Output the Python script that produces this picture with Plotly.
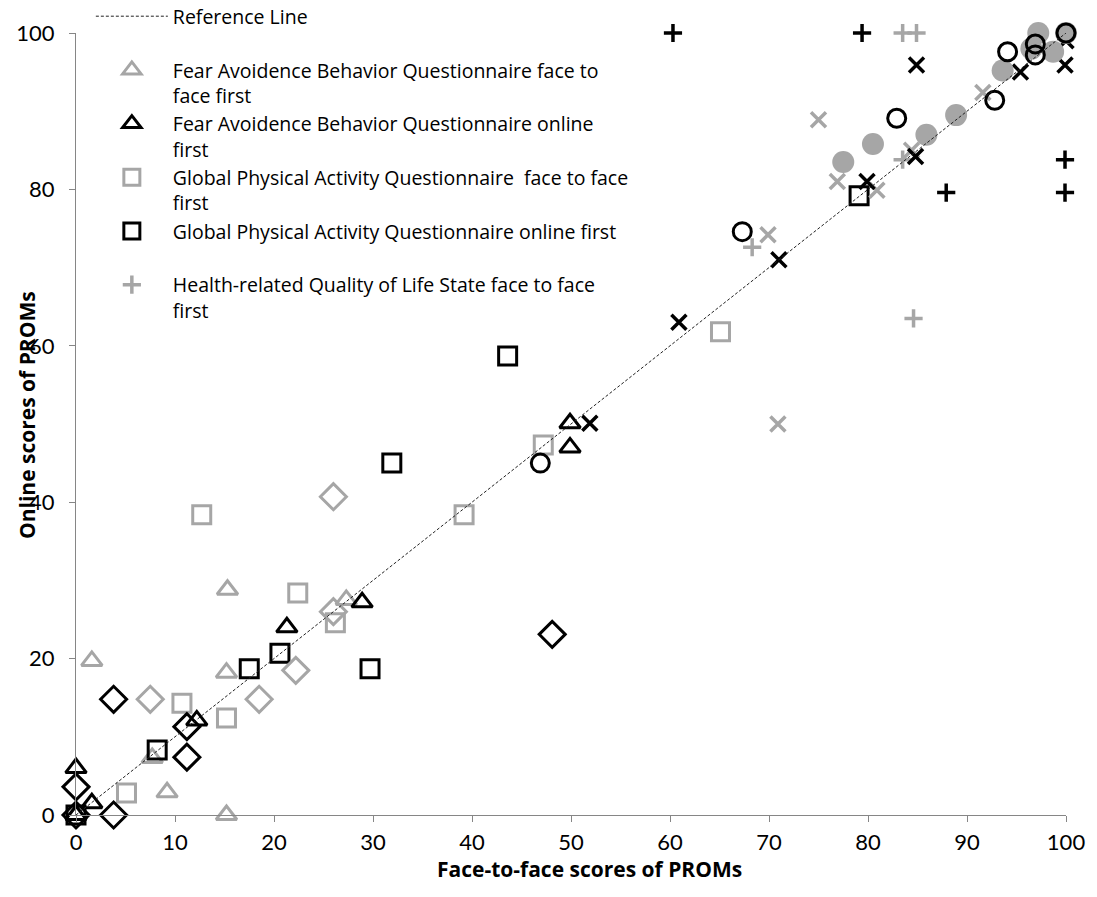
import plotly.graph_objects as go

# ---------------- data ----------------
ref_x = [0, 100]
ref_y = [0, 100]

fabq_f2f_x = [1.6, 15.3, 15.2, 7.7, 9.2, 15.2, 27.3, 0]
fabq_f2f_y = [19.7, 28.8, 18.2, 7.3, 2.9, 0, 27.5, 0]

fabq_onl_x = [0, 1.6, 12.2, 21.3, 28.9, 49.9, 49.9, 0]
fabq_onl_y = [6.0, 1.5, 12.1, 24.0, 27.2, 50.1, 47.0, 0]

gpaq_f2f_x = [12.7, 22.4, 26.2, 10.7, 15.2, 5.1, 39.2, 47.2, 65.1]
gpaq_f2f_y = [38.4, 28.4, 24.6, 14.3, 12.4, 2.8, 38.4, 47.3, 61.8]

gpaq_onl_x = [8.2, 17.5, 20.6, 29.7, 31.9, 43.6, 79.1, 0]
gpaq_onl_y = [8.3, 18.7, 20.7, 18.7, 45.0, 58.7, 79.2, 0]

hrqs_f2f_x = [83.5, 84.9, 68.3, 83.5, 84.6]
hrqs_f2f_y = [100, 100, 72.6, 83.8, 63.5]

hrqs_onl_x = [60.3, 79.4, 99.9, 99.9, 87.9]
hrqs_onl_y = [100, 100, 83.8, 79.6, 79.6]

vas_f2f_x = [75.0, 69.9, 70.9, 76.9, 80.9, 84.4, 91.6, 100]
vas_f2f_y = [88.9, 74.2, 50.0, 81.0, 79.9, 85.0, 92.4, 100]

vas_onl_x = [51.9, 60.9, 71.0, 79.9, 84.8, 84.9, 99.9, 95.4, 100]
vas_onl_y = [50.1, 63.0, 71.0, 81.0, 84.2, 95.9, 95.9, 95.0, 99.0]

circ_f2f_x = [77.5, 80.5, 85.9, 88.9, 93.6, 97.2, 98.7, 100, 96.5]
circ_f2f_y = [83.5, 85.8, 87.0, 89.5, 95.2, 100, 97.6, 100, 98.0]

circ_onl_x = [46.9, 67.3, 82.9, 92.8, 94.1, 96.9, 96.9, 100]
circ_onl_y = [45.0, 74.6, 89.1, 91.4, 97.6, 98.6, 97.2, 100]

diam_f2f_x = [26.0, 7.5, 18.5, 22.2, 26.0]
diam_f2f_y = [40.7, 14.8, 14.8, 18.5, 26.0]

diam_onl_x = [3.8, 11.2, 11.2, 0, 0, 3.8, 48.1]
diam_onl_y = [14.8, 11.3, 7.4, 3.6, 0, 0, 23.1]

x_ticks = [0, 10, 20, 30, 40, 50, 60, 70, 80, 90, 100]
y_ticks = [0, 20, 40, 60, 80, 100]

GRAY = "#A6A6A6"
BLACK = "#000000"
FONT = "Lato"
LFONT = "Open Sans"

fig = go.Figure()


def add(xs, ys, name, symbol, color, size, lw=3, show=True, rank=None, filled=False):
    marker = dict(symbol=symbol, size=size, color=color)
    if filled:
        marker["line"] = dict(width=0)
    else:
        marker["line"] = dict(width=lw, color=color)
    fig.add_trace(go.Scatter(
        x=xs, y=ys, mode="markers", name=name, marker=marker,
        showlegend=show, cliponaxis=False,
        legendrank=rank if rank is not None else 1000,
    ))


add(fabq_f2f_x, fabq_f2f_y, "Fear Avoidence Behavior Questionnaire face to<br>face first",
    "triangle-up-open", GRAY, 18, rank=2)
add(fabq_onl_x, fabq_onl_y, "Fear Avoidence Behavior Questionnaire online<br>first",
    "triangle-up-open", BLACK, 18, rank=3)
add(gpaq_f2f_x, gpaq_f2f_y, "Global Physical Activity Questionnaire  face to face<br>first",
    "square-open", GRAY, 18, rank=4)
add(gpaq_onl_x, gpaq_onl_y, "Global Physical Activity Questionnaire online first<br> ",
    "square-open", BLACK, 18, rank=5)
add(hrqs_f2f_x, hrqs_f2f_y, "Health-related Quality of Life State face to face<br>first",
    "cross-thin-open", GRAY, 13, lw=3.5, rank=6)
add(hrqs_onl_x, hrqs_onl_y, "Health-related Quality of Life State online first",
    "cross-thin-open", BLACK, 13, lw=3.5, show=False)
add(vas_f2f_x, vas_f2f_y, "Health-related Quality of Life VAS face to face first",
    "x-thin-open", GRAY, 15, lw=3.5, show=False)
add(vas_onl_x, vas_onl_y, "Health-related Quality of Life VAS online first",
    "x-thin-open", BLACK, 15, lw=3.5, show=False)
add(circ_f2f_x, circ_f2f_y, "PROM circle face to face first",
    "circle", GRAY, 22, show=False, filled=True)
add(circ_onl_x, circ_onl_y, "PROM circle online first",
    "circle-open", BLACK, 18, show=False)
add(diam_f2f_x, diam_f2f_y, "PROM diamond face to face first",
    "diamond-open", GRAY, 20, show=False)
add(diam_onl_x, diam_onl_y, "PROM diamond online first",
    "diamond-open", BLACK, 20, show=False)

fig.add_trace(go.Scatter(
    x=ref_x, y=ref_y, mode="lines", name="Reference Line<br> ",
    line=dict(color="#222222", width=1, dash="3px,2px"),
    legendrank=1, cliponaxis=False,
))

axis_common = dict(
    showgrid=False, zeroline=False, showline=True, linecolor="#868686", linewidth=1,
    ticks="outside", ticklen=6, tickcolor="#868686", tickwidth=1,
    tickfont=dict(family=FONT, size=22, color="#000000"),
    range=[0, 100], fixedrange=True,
)

fig.update_layout(
    width=1097, height=897,
    margin=dict(l=76, r=31, t=33, b=82, autoexpand=False),
    paper_bgcolor="white", plot_bgcolor="white",
    font=dict(family=FONT, color="#000000"),
    xaxis=dict(**axis_common, tickvals=x_ticks, ticklabelstandoff=2),
    yaxis=dict(**axis_common, tickvals=y_ticks, ticklabelstandoff=10),
    legend=dict(
        x=0.015, y=1.046, xanchor="left", yanchor="top",
        bgcolor="white", borderwidth=0,
        font=dict(family=LFONT, size=19.5, color="#000000"),
        valign="top", itemwidth=72, tracegroupgap=0,
    ),
    annotations=[
        dict(text="<b>Face-to-face scores of PROMs</b>", xref="paper", yref="paper",
             x=0.519, y=-0.0695, xanchor="center", yanchor="middle", showarrow=False,
             font=dict(family=LFONT, size=21, color="#000000")),
        dict(text="<b>Online scores of PROMs</b>", xref="paper", yref="paper",
             x=-0.0495, y=0.5115, xanchor="center", yanchor="middle", showarrow=False,
             textangle=-90, font=dict(family=LFONT, size=21, color="#000000")),
    ],
)

fig.write_html("out.html")
